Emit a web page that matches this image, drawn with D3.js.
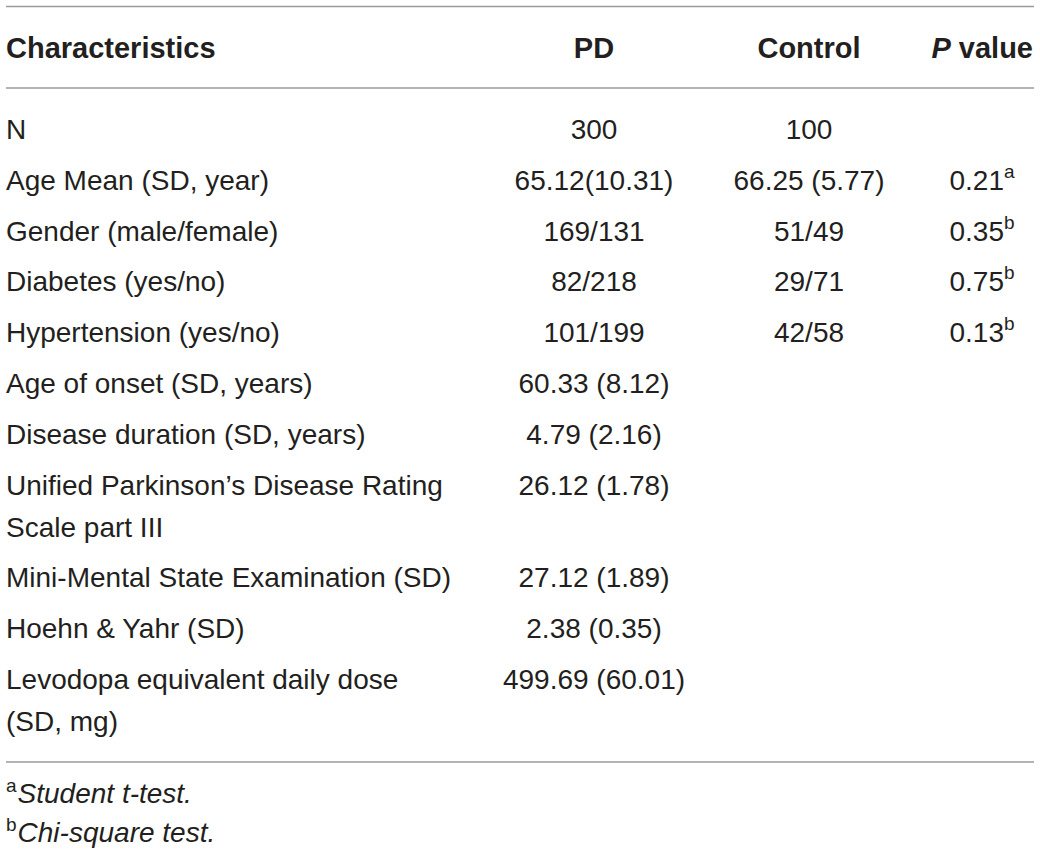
<!DOCTYPE html>
<html>
<head>
<meta charset="utf-8">
<script src="https://cdn.jsdelivr.net/npm/d3@7"></script>
<style>
  html, body { margin: 0; padding: 0; background: #fff; }
  svg { display: block; }
</style>
</head>
<body>
<svg id="main-svg" width="1040" height="853"></svg>
<script>
// Table content
const headers = ['Characteristics', 'PD', 'Control', 'P value'];
const characteristics = [
    ['N'],
    ['Age Mean (SD, year)'],
    ['Gender (male/female)'],
    ['Diabetes (yes/no)'],
    ['Hypertension (yes/no)'],
    ['Age of onset (SD, years)'],
    ['Disease duration (SD, years)'],
    ['Unified Parkinson\u2019s Disease Rating', 'Scale part III'],
    ['Mini-Mental State Examination (SD)'],
    ['Hoehn & Yahr (SD)'],
    ['Levodopa equivalent daily dose', '(SD, mg)'],
];
const pdValues = ['300', '65.12(10.31)', '169/131', '82/218', '101/199', '60.33 (8.12)',
    '4.79 (2.16)', '26.12 (1.78)', '27.12 (1.89)', '2.38 (0.35)', '499.69 (60.01)'];
const controlValues = ['100', '66.25 (5.77)', '51/49', '29/71', '42/58', '', '', '', '', '', ''];
const pValues = ['', '0.21', '0.35', '0.75', '0.13', '', '', '', '', '', ''];
const pNotes = ['', 'a', 'b', 'b', 'b', '', '', '', '', '', ''];
const footnotes = [
    { mark: 'a', text: 'Student t-test.' },
    { mark: 'b', text: 'Chi-square test.' },
];

const svg = d3.select('#main-svg');
const font = '"Liberation Sans", Arial, Helvetica, sans-serif';
const ink = '#231f20';
const ruleColor = '#9a9a9a';

// Column centres
const colX = d3.scaleOrdinal()
    .domain(['pd', 'control', 'p'])
    .range([594, 809, 982]);

// Row baselines: one step per row, plus extra for wrapped lines
const rowY = d3.scaleLinear().domain([0, 1]).range([139, 189.8]);
const wrapStep = 42;

let extra = 0;
const rows = characteristics.map((lines, i) => {
    const r = {
        lines,
        pd: pdValues[i],
        control: controlValues[i],
        p: pValues[i],
        note: pNotes[i],
        y: rowY(i) + extra,
    };
    extra += (lines.length - 1) * wrapStep;
    return r;
});

// Horizontal rules
const rules = [6.5, 88, 762];
svg.selectAll('.rule')
    .data(rules)
    .enter()
    .append('line')
    .attr('class', 'rule')
    .attr('x1', 6)
    .attr('x2', 1034)
    .attr('y1', d => d)
    .attr('y2', d => d)
    .attr('stroke', ruleColor)
    .attr('stroke-width', 1.5);

// Header row
const head = svg.append('g')
    .attr('font-family', font)
    .attr('font-size', 29)
    .attr('font-weight', 'bold')
    .attr('fill', ink);

head.append('text').attr('x', 6).attr('y', 58).text(headers[0]);
head.append('text').attr('x', colX('pd')).attr('y', 58).attr('text-anchor', 'middle').text(headers[1]);
head.append('text').attr('x', colX('control')).attr('y', 58).attr('text-anchor', 'middle').text(headers[2]);
const pHead = head.append('text').attr('x', 1033).attr('y', 58).attr('text-anchor', 'end');
pHead.append('tspan').attr('font-style', 'italic').text(headers[3].split(' ')[0]);
pHead.append('tspan').text(' ' + headers[3].split(' ')[1]);

// Body rows
const body = svg.append('g')
    .attr('font-family', font)
    .attr('font-size', 28)
    .attr('fill', ink);

const row = body.selectAll('.row')
    .data(rows)
    .enter()
    .append('g')
    .attr('class', 'row')
    .attr('transform', d => `translate(0, ${d.y})`);

row.each(function (d) {
    const g = d3.select(this);

    g.selectAll('.label')
        .data(d.lines)
        .enter()
        .append('text')
        .attr('class', 'label')
        .attr('x', 6)
        .attr('y', (l, j) => j * wrapStep)
        .text(l => l);

    g.append('text')
        .attr('x', colX('pd'))
        .attr('text-anchor', 'middle')
        .text(d.pd);

    if (d.control) {
        g.append('text')
            .attr('x', colX('control'))
            .attr('text-anchor', 'middle')
            .text(d.control);
    }

    if (d.p) {
        const t = g.append('text')
            .attr('x', colX('p'))
            .attr('text-anchor', 'middle');
        t.append('tspan').text(d.p);
        t.append('tspan')
            .attr('font-size', 19)
            .attr('dy', -12)
            .text(d.note);
    }
});

// Footnotes
const foot = svg.append('g')
    .attr('font-family', font)
    .attr('font-size', 28)
    .attr('fill', ink);

foot.selectAll('.note')
    .data(footnotes)
    .enter()
    .append('text')
    .attr('class', 'note')
    .attr('x', 6)
    .attr('y', (d, i) => 803 + i * 39)
    .each(function (d) {
        const t = d3.select(this);
        t.append('tspan')
            .attr('font-size', 19)
            .attr('dy', -11)
            .text(d.mark);
        t.append('tspan')
            .attr('font-style', 'italic')
            .attr('dy', 11)
            .attr('dx', 1)
            .text(d.text);
    });
</script>
</body>
</html>
